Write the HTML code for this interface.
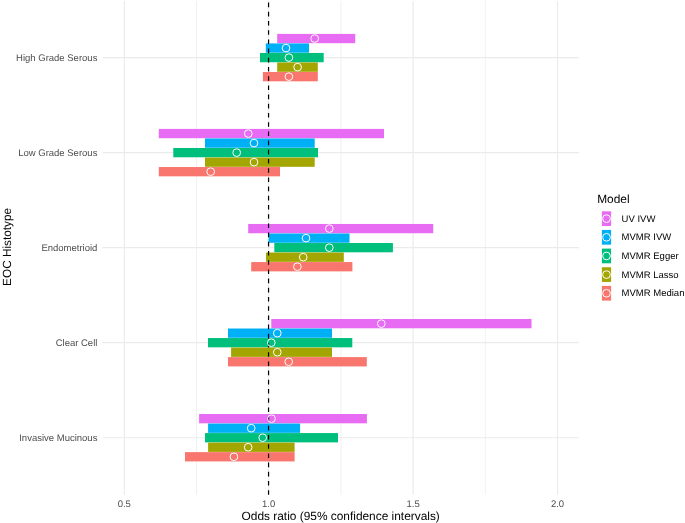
<!DOCTYPE html><html><head><meta charset="utf-8"><style>
html,body{margin:0;padding:0;background:#fff;}
svg{display:block;will-change:transform;text-rendering:geometricPrecision;font-family:"Liberation Sans",sans-serif;}
</style></head><body>
<svg width="685" height="523" viewBox="0 0 685 523">
<rect x="0" y="0" width="685" height="523" fill="#fff"/>
<line x1="196.50" y1="1.0" x2="196.50" y2="494.8" stroke="#EBEBEB" stroke-width="0.7"/>
<line x1="340.90" y1="1.0" x2="340.90" y2="494.8" stroke="#EBEBEB" stroke-width="0.7"/>
<line x1="485.30" y1="1.0" x2="485.30" y2="494.8" stroke="#EBEBEB" stroke-width="0.7"/>
<line x1="102.6" y1="57.60" x2="579.0" y2="57.60" stroke="#EBEBEB" stroke-width="1.15"/>
<line x1="102.6" y1="152.63" x2="579.0" y2="152.63" stroke="#EBEBEB" stroke-width="1.15"/>
<line x1="102.6" y1="247.66" x2="579.0" y2="247.66" stroke="#EBEBEB" stroke-width="1.15"/>
<line x1="102.6" y1="342.69" x2="579.0" y2="342.69" stroke="#EBEBEB" stroke-width="1.15"/>
<line x1="102.6" y1="437.72" x2="579.0" y2="437.72" stroke="#EBEBEB" stroke-width="1.15"/>
<line x1="124.30" y1="1.0" x2="124.30" y2="494.8" stroke="#EBEBEB" stroke-width="1.15"/>
<line x1="268.70" y1="1.0" x2="268.70" y2="494.8" stroke="#EBEBEB" stroke-width="1.15"/>
<line x1="413.10" y1="1.0" x2="413.10" y2="494.8" stroke="#EBEBEB" stroke-width="1.15"/>
<line x1="557.50" y1="1.0" x2="557.50" y2="494.8" stroke="#EBEBEB" stroke-width="1.15"/>
<rect x="277.20" y="33.89" width="78.00" height="9.3" fill="#E76BF3"/>
<rect x="265.80" y="43.42" width="43.20" height="9.3" fill="#00B0F6"/>
<rect x="260.00" y="52.95" width="63.70" height="9.3" fill="#00BF7D"/>
<rect x="277.20" y="62.48" width="40.60" height="9.3" fill="#A3A500"/>
<rect x="262.90" y="72.01" width="54.90" height="9.3" fill="#F8766D"/>
<rect x="158.80" y="128.92" width="225.20" height="9.3" fill="#E76BF3"/>
<rect x="205.00" y="138.45" width="109.70" height="9.3" fill="#00B0F6"/>
<rect x="173.30" y="147.98" width="144.70" height="9.3" fill="#00BF7D"/>
<rect x="205.00" y="157.51" width="109.70" height="9.3" fill="#A3A500"/>
<rect x="158.80" y="167.04" width="121.20" height="9.3" fill="#F8766D"/>
<rect x="248.20" y="223.95" width="185.00" height="9.3" fill="#E76BF3"/>
<rect x="268.60" y="233.48" width="80.90" height="9.3" fill="#00B0F6"/>
<rect x="274.30" y="243.01" width="118.60" height="9.3" fill="#00BF7D"/>
<rect x="266.00" y="252.54" width="77.80" height="9.3" fill="#A3A500"/>
<rect x="251.20" y="262.07" width="101.20" height="9.3" fill="#F8766D"/>
<rect x="271.30" y="318.98" width="260.20" height="9.3" fill="#E76BF3"/>
<rect x="228.00" y="328.51" width="104.00" height="9.3" fill="#00B0F6"/>
<rect x="208.00" y="338.04" width="144.30" height="9.3" fill="#00BF7D"/>
<rect x="231.10" y="347.57" width="100.90" height="9.3" fill="#A3A500"/>
<rect x="228.00" y="357.10" width="138.80" height="9.3" fill="#F8766D"/>
<rect x="199.10" y="414.01" width="167.80" height="9.3" fill="#E76BF3"/>
<rect x="208.10" y="423.54" width="92.00" height="9.3" fill="#00B0F6"/>
<rect x="205.00" y="433.07" width="133.00" height="9.3" fill="#00BF7D"/>
<rect x="208.10" y="442.60" width="86.50" height="9.3" fill="#A3A500"/>
<rect x="185.00" y="452.13" width="109.60" height="9.3" fill="#F8766D"/>
<line x1="268.55" y1="1.0" x2="268.55" y2="494.8" stroke="#000" stroke-width="1.2" stroke-dasharray="4.6 4.6" stroke-dashoffset="-1.6"/>
<circle cx="314.70" cy="38.54" r="3.85" fill="none" stroke="#fff" stroke-width="1"/>
<circle cx="286.00" cy="48.07" r="3.85" fill="none" stroke="#fff" stroke-width="1"/>
<circle cx="288.90" cy="57.60" r="3.85" fill="none" stroke="#fff" stroke-width="1"/>
<circle cx="297.60" cy="67.13" r="3.85" fill="none" stroke="#fff" stroke-width="1"/>
<circle cx="288.90" cy="76.66" r="3.85" fill="none" stroke="#fff" stroke-width="1"/>
<circle cx="248.30" cy="133.57" r="3.85" fill="none" stroke="#fff" stroke-width="1"/>
<circle cx="254.00" cy="143.10" r="3.85" fill="none" stroke="#fff" stroke-width="1"/>
<circle cx="236.70" cy="152.63" r="3.85" fill="none" stroke="#fff" stroke-width="1"/>
<circle cx="254.00" cy="162.16" r="3.85" fill="none" stroke="#fff" stroke-width="1"/>
<circle cx="210.70" cy="171.69" r="3.85" fill="none" stroke="#fff" stroke-width="1"/>
<circle cx="329.30" cy="228.60" r="3.85" fill="none" stroke="#fff" stroke-width="1"/>
<circle cx="306.00" cy="238.13" r="3.85" fill="none" stroke="#fff" stroke-width="1"/>
<circle cx="329.30" cy="247.66" r="3.85" fill="none" stroke="#fff" stroke-width="1"/>
<circle cx="303.20" cy="257.19" r="3.85" fill="none" stroke="#fff" stroke-width="1"/>
<circle cx="297.40" cy="266.72" r="3.85" fill="none" stroke="#fff" stroke-width="1"/>
<circle cx="381.30" cy="323.63" r="3.85" fill="none" stroke="#fff" stroke-width="1"/>
<circle cx="277.30" cy="333.16" r="3.85" fill="none" stroke="#fff" stroke-width="1"/>
<circle cx="271.30" cy="342.69" r="3.85" fill="none" stroke="#fff" stroke-width="1"/>
<circle cx="277.30" cy="352.22" r="3.85" fill="none" stroke="#fff" stroke-width="1"/>
<circle cx="288.70" cy="361.75" r="3.85" fill="none" stroke="#fff" stroke-width="1"/>
<circle cx="271.50" cy="418.66" r="3.85" fill="none" stroke="#fff" stroke-width="1"/>
<circle cx="251.20" cy="428.19" r="3.85" fill="none" stroke="#fff" stroke-width="1"/>
<circle cx="262.70" cy="437.72" r="3.85" fill="none" stroke="#fff" stroke-width="1"/>
<circle cx="248.20" cy="447.25" r="3.85" fill="none" stroke="#fff" stroke-width="1"/>
<circle cx="233.90" cy="456.78" r="3.85" fill="none" stroke="#fff" stroke-width="1"/>
<text x="97.4" y="60.90" font-size="9.5" fill="#4D4D4D" text-anchor="end">High Grade Serous</text>
<text x="97.4" y="155.93" font-size="9.5" fill="#4D4D4D" text-anchor="end">Low Grade Serous</text>
<text x="97.4" y="250.96" font-size="9.5" fill="#4D4D4D" text-anchor="end">Endometrioid</text>
<text x="97.4" y="345.99" font-size="9.5" fill="#4D4D4D" text-anchor="end">Clear Cell</text>
<text x="97.4" y="441.02" font-size="9.5" fill="#4D4D4D" text-anchor="end">Invasive Mucinous</text>
<text x="124.30" y="506.8" font-size="9.5" fill="#4D4D4D" text-anchor="middle">0.5</text>
<text x="268.70" y="506.8" font-size="9.5" fill="#4D4D4D" text-anchor="middle">1.0</text>
<text x="413.10" y="506.8" font-size="9.5" fill="#4D4D4D" text-anchor="middle">1.5</text>
<text x="557.50" y="506.8" font-size="9.5" fill="#4D4D4D" text-anchor="middle">2.0</text>
<text x="340.7" y="519.8" font-size="11.9" fill="#000" text-anchor="middle">Odds ratio (95% confidence intervals)</text>
<text transform="translate(10.6 246.9) rotate(-90)" font-size="11.8" fill="#000" text-anchor="middle">EOC Histotype</text>
<text x="597.2" y="202.8" font-size="11.9" fill="#000">Model</text>
<rect x="601.9" y="211.30" width="9.2" height="14.7" fill="#E76BF3"/>
<circle cx="606.5" cy="218.65" r="3.85" fill="none" stroke="#fff" stroke-width="1"/>
<text x="621.6" y="221.80" font-size="9.5" fill="#000">UV IVW</text>
<rect x="601.9" y="229.95" width="9.2" height="14.7" fill="#00B0F6"/>
<circle cx="606.5" cy="237.30" r="3.85" fill="none" stroke="#fff" stroke-width="1"/>
<text x="621.6" y="240.45" font-size="9.5" fill="#000">MVMR IVW</text>
<rect x="601.9" y="248.60" width="9.2" height="14.7" fill="#00BF7D"/>
<circle cx="606.5" cy="255.95" r="3.85" fill="none" stroke="#fff" stroke-width="1"/>
<text x="621.6" y="259.10" font-size="9.5" fill="#000">MVMR Egger</text>
<rect x="601.9" y="267.25" width="9.2" height="14.7" fill="#A3A500"/>
<circle cx="606.5" cy="274.60" r="3.85" fill="none" stroke="#fff" stroke-width="1"/>
<text x="621.6" y="277.75" font-size="9.5" fill="#000">MVMR Lasso</text>
<rect x="601.9" y="285.90" width="9.2" height="14.7" fill="#F8766D"/>
<circle cx="606.5" cy="293.25" r="3.85" fill="none" stroke="#fff" stroke-width="1"/>
<text x="621.6" y="296.40" font-size="9.5" fill="#000">MVMR Median</text>
</svg></body></html>
